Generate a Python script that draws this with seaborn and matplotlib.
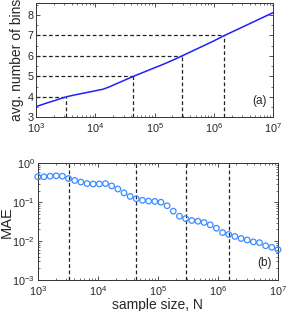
import numpy as np
import pandas as pd
import matplotlib
matplotlib.use("Agg")
import matplotlib.pyplot as plt
import matplotlib.ticker as mticker
import seaborn as sns

# ---------------- data ----------------
sample_sizes = [1000, 1266, 1604, 2031, 2572, 3257, 4125, 5223, 6615, 8377,
                10608, 13434, 17013, 21544, 27283, 34551, 43755, 55410, 70170, 88862,
                112534, 142510, 180472, 228546, 289427, 366524, 464159, 587802, 744380, 942668,
                1193777, 1511775, 1914482, 2424462, 3070291, 3888155, 4923883, 6235507, 7896523, 10000000]

avg_bins = [3.52, 3.62, 3.72, 3.81, 3.91, 4.00, 4.07, 4.13, 4.19, 4.25,
            4.31, 4.37, 4.48, 4.61, 4.74, 4.87, 5.00, 5.12, 5.24, 5.36,
            5.48, 5.60, 5.73, 5.86, 6.00, 6.14, 6.28, 6.42, 6.56, 6.70,
            6.85, 7.00, 7.14, 7.28, 7.42, 7.56, 7.70, 7.84, 7.98, 8.12]

mae = [0.452, 0.452, 0.468, 0.479, 0.468, 0.407, 0.363, 0.331, 0.302, 0.295,
       0.295, 0.302, 0.263, 0.219, 0.174, 0.141, 0.123, 0.112, 0.107, 0.105,
       0.100, 0.0813, 0.0589, 0.0437, 0.0380, 0.0339, 0.0324, 0.0302, 0.0263, 0.0214,
       0.0166, 0.0148, 0.0132, 0.0117, 0.0107, 0.00955, 0.00912, 0.00759, 0.00692, 0.00603]

guide_N = [3257, 43755, 289427, 1511775]
guide_bins = [4, 5, 6, 7]

top_ylim = (3, 8.6)
top_yticks = [3, 4, 5, 6, 7, 8]
xlim = (1e3, 1e7)
bottom_ylim = (1e-3, 1e0)

# ---------------- style ----------------
sns.set_style("ticks")
plt.rcParams['font.family'] = ['Liberation Sans', 'DejaVu Sans']
plt.rcParams['mathtext.default'] = 'regular'
plt.rcParams['xtick.direction'] = 'in'
plt.rcParams['ytick.direction'] = 'in'

fig = plt.figure(figsize=(2.86, 3.11), dpi=100)
ax1 = fig.add_axes([0.126, 0.623, 0.829, 0.368])
ax2 = fig.add_axes([0.132, 0.0997, 0.840, 0.375])

df = pd.DataFrame({"N": sample_sizes, "bins": avg_bins, "mae": mae})

# ---- top panel ----
for xv, yv in zip(guide_N, guide_bins):
    ax1.plot([xlim[0], xv], [yv, yv], ls=(0, (3, 2)), color='#222222', lw=0.9, zorder=1)
    ax1.plot([xv, xv], [top_ylim[0], yv], ls=(0, (3, 2)), color='#222222', lw=0.9, zorder=1)
sns.lineplot(data=df, x="N", y="bins", ax=ax1, color='#1f1fff', lw=1.1, zorder=3)
ax1.set_xscale('log')
ax1.set_xlim(*xlim)
ax1.set_ylim(*top_ylim)
ax1.set_yticks(top_yticks)
ax1.yaxis.set_minor_locator(mticker.MultipleLocator(0.5))
ax1.set_xlabel("")
ax1.set_ylabel("avg. number of bins", fontsize=10, labelpad=2)
ax1.text(0.975, 0.09, "(a)", transform=ax1.transAxes, ha='right', va='bottom', fontsize=8.5)

# ---- bottom panel ----
for xv in guide_N:
    ax2.axvline(xv, ls=(0, (3, 2)), color='#222222', lw=0.9, zorder=1)
sns.scatterplot(data=df, x="N", y="mae", ax=ax2, marker='o', s=16,
                facecolor='none', edgecolor='#3d8bff', linewidth=0.9, zorder=3, clip_on=False)
ax2.set_xscale('log')
ax2.set_yscale('log')
ax2.set_xlim(*xlim)
ax2.set_ylim(*bottom_ylim)
ax2.set_xlabel("sample size, N", fontsize=10, labelpad=0)
ax2.set_ylabel("MAE", fontsize=10.5)
ax2.yaxis.set_label_coords(-0.098, 0.5)
ax2.text(0.975, 0.09, "(b)", transform=ax2.transAxes, ha='right', va='bottom', fontsize=8.5)

for ax in (ax1, ax2):
    ax.tick_params(which='both', top=True, right=True, labelsize=7.8,
                   color='#333333')
    ax.tick_params(axis='x', which='both', pad=3)
    ax.tick_params(axis='y', which='both', pad=2)
    ax.tick_params(which='major', length=3, width=0.6)
    ax.tick_params(which='minor', length=1.5, width=0.5)
    for s in ax.spines.values():
        s.set_linewidth(0.7)
        s.set_color('#333333')
    ax.grid(False)

fig.savefig("out.png", dpi=100)
